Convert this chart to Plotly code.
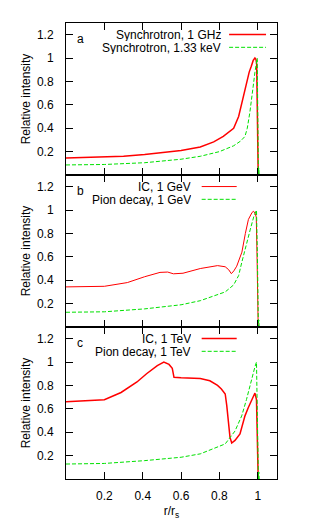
import plotly.graph_objects as go
from plotly.subplots import make_subplots

# ---- data ----
sync_radio_x = [0, 0.1, 0.2, 0.3, 0.41, 0.5, 0.6, 0.7, 0.77, 0.82, 0.874, 0.9, 0.916, 0.93, 0.942,
                0.955, 0.966, 0.976, 0.985, 0.99, 0.994, 0.997, 1.0, 1.002]
sync_radio_y = [0.145, 0.148, 0.152, 0.16, 0.175, 0.19, 0.21, 0.24, 0.283, 0.33, 0.40, 0.50, 0.61, 0.71,
                0.81, 0.88, 0.93, 0.98, 1.0, 0.99, 0.95, 0.3, 0.05, 0.0]

sync_xray_x = [0, 0.2, 0.41, 0.6, 0.7, 0.8, 0.874, 0.91, 0.933, 0.945, 0.958, 0.968, 0.976, 0.985,
               0.993, 0.997, 1.0, 1.003, 1.005, 1.007, 1.009]
sync_xray_y = [0.086, 0.09, 0.105, 0.135, 0.16, 0.2, 0.25, 0.29, 0.33, 0.40, 0.53, 0.64, 0.76, 0.88,
               0.97, 1.0, 0.5, 0.0, 0.06, 0.0, 0.0]

ic_gev_x = [0, 0.1, 0.2, 0.32, 0.41, 0.49, 0.53, 0.56, 0.61, 0.7, 0.79, 0.83, 0.848, 0.862, 0.875,
            0.89, 0.905, 0.917, 0.935, 0.951, 0.97, 0.978, 0.986, 0.992, 0.996, 0.999, 1.002]
ic_gev_y = [0.343, 0.345, 0.348, 0.38, 0.43, 0.467, 0.47, 0.455, 0.46, 0.50, 0.525, 0.515, 0.49, 0.456,
            0.48, 0.52, 0.58, 0.64, 0.80, 0.92, 0.98, 0.99, 0.97, 0.94, 0.6, 0.2, 0.0]

pion_gev_x = [0, 0.2, 0.41, 0.6, 0.7, 0.79, 0.83, 0.874, 0.9, 0.916, 0.94, 0.96, 0.98, 0.993, 0.998,
              1.003, 1.005, 1.007, 1.009]
pion_gev_y = [0.126, 0.13, 0.155, 0.19, 0.225, 0.277, 0.3, 0.36, 0.44, 0.55, 0.69, 0.83, 0.95, 1.0, 0.6,
              0.0, 0.06, 0.0, 0.0]

ic_tev_x = [0, 0.1, 0.2, 0.287, 0.37, 0.42, 0.476, 0.51, 0.537, 0.554, 0.563, 0.6, 0.7, 0.75, 0.79,
            0.81, 0.83, 0.838, 0.846, 0.855, 0.864, 0.881, 0.907, 0.933, 0.95, 0.967, 0.985, 0.993,
            0.998, 1.002]
ic_tev_y = [0.66, 0.67, 0.678, 0.74, 0.83, 0.9, 0.97, 1.0, 0.98, 0.946, 0.87, 0.865, 0.86, 0.84, 0.80,
            0.77, 0.727, 0.63, 0.485, 0.356, 0.308, 0.33, 0.385, 0.54, 0.61, 0.67, 0.735, 0.68, 0.17, 0.0]

pion_tev_x = [0, 0.2, 0.41, 0.6, 0.7, 0.79, 0.83, 0.881, 0.916, 0.941, 0.967, 0.985, 0.993, 0.998,
              1.003, 1.005, 1.007, 1.009]
pion_tev_y = [0.128, 0.133, 0.157, 0.186, 0.215, 0.27, 0.3, 0.41, 0.54, 0.68, 0.855, 0.96, 1.0, 0.6,
              0.0, 0.06, 0.0, 0.0]

panel_letters = ["a", "b", "c"]
legend_names = [["Synchrotron, 1 GHz", "Synchrotron, 1.33 keV"],
                ["IC, 1 GeV", "Pion decay, 1 GeV"],
                ["IC, 1 TeV", "Pion decay, 1 TeV"]]
y_tickvals = [0.2, 0.4, 0.6, 0.8, 1.0, 1.2]
x_tickvals = [0.2, 0.4, 0.6, 0.8, 1.0]

RED = "rgb(255,0,0)"
GREEN = "rgb(0,225,0)"
DASH = "4px,2px"
FONT = "Liberation Sans, Arial, sans-serif"

series = [
    (sync_radio_x, sync_radio_y, sync_xray_x, sync_xray_y, 1.5),
    (ic_gev_x, ic_gev_y, pion_gev_x, pion_gev_y, 1.0),
    (ic_tev_x, ic_tev_y, pion_tev_x, pion_tev_y, 1.5),
]

fig = make_subplots(rows=3, cols=1, shared_xaxes=True, vertical_spacing=0)

for i, (rx, ry, gx, gy, rw) in enumerate(series):
    row = i + 1
    fig.add_trace(go.Scatter(x=rx, y=ry, mode="lines", name=legend_names[i][0],
                             line=dict(color=RED, width=rw), showlegend=False), row=row, col=1)
    fig.add_trace(go.Scatter(x=gx, y=gy, mode="lines", name=legend_names[i][1],
                             line=dict(color=GREEN, width=1, dash=DASH), showlegend=False), row=row, col=1)

    xs = "x" if row == 1 else f"x{row}"
    ys = "y" if row == 1 else f"y{row}"
    if row == 1:
        tx, l0, l1 = 0.743, 0.773, 0.948
    else:
        tx, l0, l1 = 0.603, 0.643, 0.809
    rows_y = [0.924, 0.84]
    for k in range(2):
        fig.add_annotation(text=legend_names[i][k], xref=f"{xs} domain", yref=f"{ys} domain",
                           x=tx, y=rows_y[k], xanchor="right", yanchor="middle", showarrow=False,
                           font=dict(family=FONT, size=12, color="black"), height=13)
        fig.add_shape(type="line", xref=f"{xs} domain", yref=f"{ys} domain",
                      x0=l0, x1=l1, y0=rows_y[k], y1=rows_y[k],
                      line=dict(color=RED if k == 0 else GREEN, width=(rw if k == 0 else 1),
                                dash=None if k == 0 else DASH))
    fig.add_annotation(text=panel_letters[i], xref=f"{xs} domain", yref=f"{ys} domain",
                       x=0.045, y=0.895, xanchor="left", yanchor="middle", showarrow=False,
                       font=dict(family=FONT, size=12, color="black"))

    fig.update_yaxes(range=[0, 1.3], tickvals=y_tickvals, ticks="inside", ticklen=7,
                     tickcolor="black", showline=True, linecolor="black", linewidth=1,
                     mirror="allticks", showgrid=False, zeroline=False, automargin=False,
                     ticklabelstandoff=9,
                     title=dict(text="Relative intensity", font=dict(family=FONT, size=12),
                                standoff=3),
                     row=row, col=1)
    fig.update_xaxes(range=[0, 1.1], tickvals=x_tickvals, ticks="inside", ticklen=7,
                     tickcolor="black", showline=True, linecolor="black", linewidth=1,
                     mirror="allticks", showgrid=False, zeroline=False, automargin=False,
                     row=row, col=1)

fig.update_xaxes(title=dict(text="r/r<sub>s</sub>", font=dict(family=FONT, size=12), standoff=4),
                 ticklabelstandoff=6, row=3, col=1)

# page body has an 8px default margin, so the figure is sized/offset to compensate
fig.update_layout(width=304, height=517, margin=dict(l=58, r=35, t=15, b=46),
                  plot_bgcolor="white", paper_bgcolor="white",
                  font=dict(family=FONT, size=12, color="black"), showlegend=False)

fig.write_html("out.html")
